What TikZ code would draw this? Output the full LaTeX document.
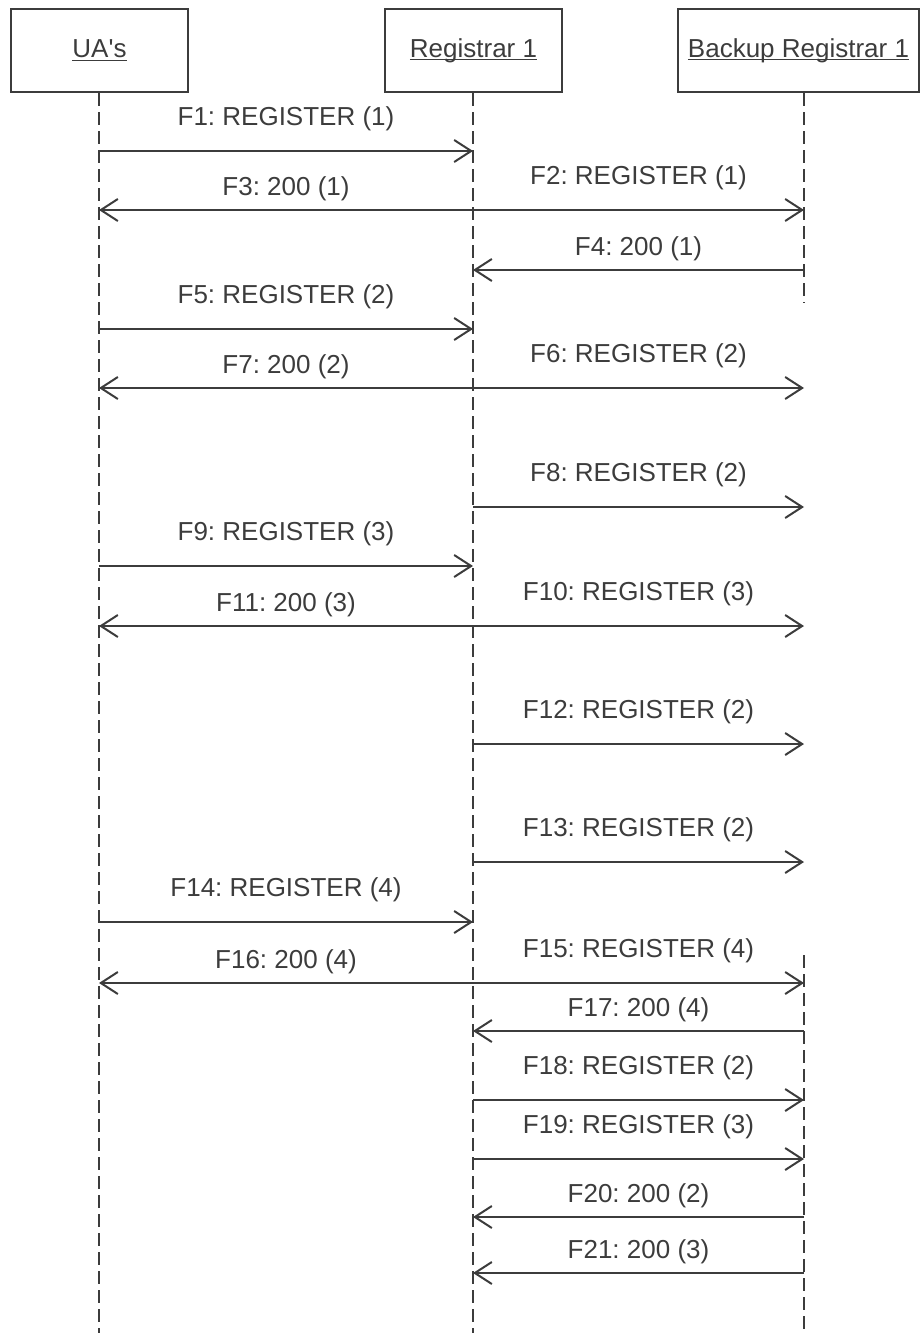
\documentclass[tikz,border=0pt]{standalone}
\usepackage{fontspec}
\setmainfont{Liberation Sans}
\usetikzlibrary{arrows.meta}
\definecolor{ink}{HTML}{3C3C3C}
\newcommand\ulabel[1]{\setbox0\hbox{#1}\rlap{\rule[-1.6pt]{\wd0}{0.55pt}}\box0}
\frenchspacing

\begin{document}
\begin{tikzpicture}[x=0.5pt,y=-0.5pt,
  entity/.style={draw=ink,line width=1pt,minimum height=41.5pt,inner sep=0pt,
    text=ink,font=\fontsize{13}{15}\selectfont},
  life/.style={draw=ink,line width=1pt,dash pattern=on 6.5pt off 3pt},
  msg/.style={draw=ink,line width=1pt,
    -{Straight Barb[length=8.5pt,width=11pt,line width=1pt]}},
  lbl/.style={midway,anchor=base,text=ink,font=\fontsize{13}{15}\selectfont},
  lblreg/.style={lbl,yshift=13pt},
  lblok/.style={lbl,yshift=7.25pt}]
\useasboundingbox (0,0) rectangle (922,1333);

\node[entity,minimum width=88.5pt] (ua) at (99.5,50.5) {\ulabel{UA\textquotesingle s}};
\node[entity,minimum width=88.5pt] (reg) at (473.5,50.5) {\ulabel{Registrar 1}};
\node[entity,minimum width=120.5pt] (bk) at (798.5,50.5) {\ulabel{Backup Registrar 1}};

\foreach \n/\y in {1/151,2/210,3/270,4/329,5/388,6/507,7/566,8/626,9/744,
    10/862,11/922,12/983,13/1031,14/1100,15/1159,16/1217,17/1273} {
  \coordinate (u\n) at (99,\y);
  \coordinate (r\n) at (473,\y);
  \coordinate (b\n) at (804,\y);
}
\coordinate (uend) at (99,1333);
\coordinate (rend) at (473,1333);
\coordinate (bend) at (804,1333);
\coordinate (bstop) at (804,303);
\coordinate (bstart) at (804,955);

\draw[life] (ua.south -| u1) -- (uend);
\draw[life] (reg.south -| r1) -- (rend);
\draw[life] (bk.south -| b1) -- (bstop);
\draw[life] (bstart) -- (bend);

\draw[msg] (u1) -- (r1) node[lblreg] {F1: REGISTER (1)};
\draw[msg] (r2) -- (b2) node[lblreg] {F2: REGISTER (1)};
\draw[msg] (r2) -- (u2) node[lblok] {F3: 200 (1)};
\draw[msg] (b3) -- (r3) node[lblok] {F4: 200 (1)};
\draw[msg] (u4) -- (r4) node[lblreg] {F5: REGISTER (2)};
\draw[msg] (r5) -- (b5) node[lblreg] {F6: REGISTER (2)};
\draw[msg] (r5) -- (u5) node[lblok] {F7: 200 (2)};
\draw[msg] (r6) -- (b6) node[lblreg] {F8: REGISTER (2)};
\draw[msg] (u7) -- (r7) node[lblreg] {F9: REGISTER (3)};
\draw[msg] (r8) -- (b8) node[lblreg] {F10: REGISTER (3)};
\draw[msg] (r8) -- (u8) node[lblok] {F11: 200 (3)};
\draw[msg] (r9) -- (b9) node[lblreg] {F12: REGISTER (2)};
\draw[msg] (r10) -- (b10) node[lblreg] {F13: REGISTER (2)};
\draw[msg] (u11) -- (r11) node[lblreg] {F14: REGISTER (4)};
\draw[msg] (r12) -- (b12) node[lblreg] {F15: REGISTER (4)};
\draw[msg] (r12) -- (u12) node[lblok] {F16: 200 (4)};
\draw[msg] (b13) -- (r13) node[lblok] {F17: 200 (4)};
\draw[msg] (r14) -- (b14) node[lblreg] {F18: REGISTER (2)};
\draw[msg] (r15) -- (b15) node[lblreg] {F19: REGISTER (3)};
\draw[msg] (b16) -- (r16) node[lblok] {F20: 200 (2)};
\draw[msg] (b17) -- (r17) node[lblok] {F21: 200 (3)};
\end{tikzpicture}
\end{document}
